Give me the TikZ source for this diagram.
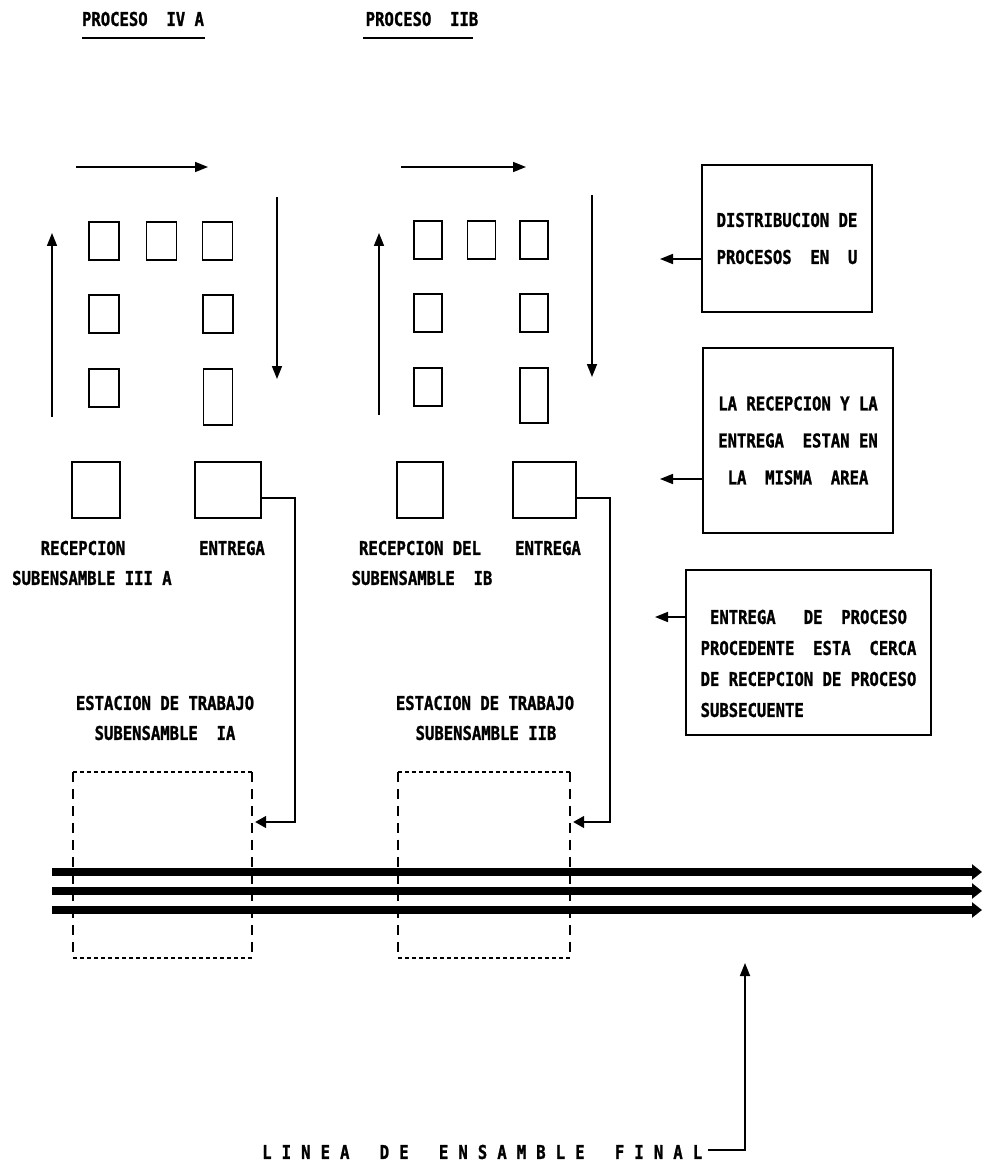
\documentclass[tikz,border=0pt]{standalone}
\usepackage{fontspec}
\newfontfamily\dm[FakeStretch=0.82,FakeBold=1.2]{DejaVu Sans Mono}
\usetikzlibrary{arrows.meta}
\begin{document}
\begin{tikzpicture}[x=1pt,y=-1pt,
  lbl/.style={font=\dm\bfseries\fontsize{19}{37}\selectfont, inner sep=0pt},
  sbox/.style={draw, line width=1.7pt, minimum width=30pt, minimum height=38pt, inner sep=0pt},
  bbox/.style={draw, line width=1.7pt, minimum height=56pt, inner sep=0pt},
  ibox/.style={draw, line width=1.7pt, inner sep=0pt, font=\dm\bfseries\fontsize{19}{37}\selectfont},
  flow/.style={line width=1.7pt, -{Triangle[length=13pt,width=10pt]}},
  conn/.style={line width=1.5pt, -{Triangle[length=11pt,width=12pt]}},
  wsarea/.style={minimum width=179pt, minimum height=186pt, inner sep=0pt},
  dashside/.style={line width=1.7pt, dash pattern=on 10pt off 7pt},
  dashtop/.style={line width=1.7pt, dash pattern=on 4pt off 3pt},
  mainline/.style={line width=8pt, -{Triangle[length=10pt,width=15pt]}},
  uline/.style={line width=2.2pt}]
\fill[white] (0,0) rectangle (982,1174);
\useasboundingbox (0,0) rectangle (982,1174);

% titles
\node[lbl] (t1) at (143,19) {PROCESO~~IV~A};
\node[lbl] (t2) at (422,19) {PROCESO~~IIB};
\coordinate (u1a) at (82,38); \coordinate (u1b) at (205,38);
\coordinate (u2a) at (363,38); \coordinate (u2b) at (473,38);
\draw[uline] (u1a) -- (u1b);
\draw[uline] (u2a) -- (u2b);

% ---------- left group ----------
\coordinate (a1s) at (76,167);  \coordinate (a1e) at (208,167);
\coordinate (a2s) at (277,197); \coordinate (a2e) at (277,379);
\coordinate (a3s) at (52,417);  \coordinate (a3e) at (52,233);
\draw[flow] (a1s) -- (a1e);
\draw[flow] (a2s) -- (a2e);
\draw[flow] (a3s) -- (a3e);
\node[sbox] (l11) at (104,241) {};
\node[sbox] (l12) at (161.5,241) {};
\node[sbox] (l13) at (217.5,241) {};
\node[sbox] (l21) at (104,314) {};
\node[sbox] (l23) at (218,314) {};
\node[sbox] (l31) at (104,388) {};
\node[sbox, minimum width=29pt, minimum height=56pt] (l33) at (218,397) {};
\node[bbox, minimum width=48pt] (rec1) at (96,490) {};
\node[bbox, minimum width=66pt] (ent1) at (228,490) {};
\node[lbl] (rl1) at (83,548) {RECEPCION};
\node[lbl] (el1) at (232,548) {ENTREGA};
\node[lbl, anchor=west] (sl1) at (12,578) {SUBENSAMBLE~III~A};
\node[lbl] (es1) at (165,703) {ESTACION~DE~TRABAJO};
\node[lbl] (ss1) at (165,733) {SUBENSAMBLE~~IA};
\node[wsarea] (ws1) at (162.5,865) {};
\draw[dashside] (ws1.north west) -- (ws1.south west);
\draw[dashside] (ws1.north east) -- (ws1.south east);
\draw[dashtop] (ws1.north west) -- (ws1.north east);
\draw[dashtop] (ws1.south west) -- (ws1.south east);
\coordinate (k1) at (295,822);
\draw[conn] ([yshift=-8pt]ent1.east) -| (k1) -- ([xshift=3pt]ws1.east |- k1);

% ---------- right group ----------
\coordinate (b1s) at (401,167); \coordinate (b1e) at (526,167);
\coordinate (b2s) at (592,195); \coordinate (b2e) at (592,377);
\coordinate (b3s) at (379,415); \coordinate (b3e) at (379,233);
\draw[flow] (b1s) -- (b1e);
\draw[flow] (b2s) -- (b2e);
\draw[flow] (b3s) -- (b3e);
\node[sbox, minimum width=28pt] (r11) at (428,240) {};
\node[sbox, minimum width=28pt] (r12) at (481.5,240) {};
\node[sbox, minimum width=28pt] (r13) at (534,240) {};
\node[sbox, minimum width=28pt] (r21) at (428,313) {};
\node[sbox, minimum width=28pt] (r23) at (534,313) {};
\node[sbox, minimum width=28pt] (r31) at (428,387) {};
\node[sbox, minimum width=28pt, minimum height=55pt] (r33) at (534,395.5) {};
\node[bbox, minimum width=46pt] (rec2) at (420,490) {};
\node[bbox, minimum width=63pt] (ent2) at (544.5,490) {};
\node[lbl] (rl2) at (420,548) {RECEPCION~DEL};
\node[lbl] (el2) at (548,548) {ENTREGA};
\node[lbl] (sl2) at (422,578) {SUBENSAMBLE~~IB};
\node[lbl] (es2) at (485,703) {ESTACION~DE~TRABAJO};
\node[lbl] (ss2) at (486,733) {SUBENSAMBLE~IIB};
\node[wsarea, minimum width=172pt] (ws2) at (484,865) {};
\draw[dashside] (ws2.north west) -- (ws2.south west);
\draw[dashside] (ws2.north east) -- (ws2.south east);
\draw[dashtop] (ws2.north west) -- (ws2.north east);
\draw[dashtop] (ws2.south west) -- (ws2.south east);
\coordinate (k2) at (610,822);
\draw[conn] ([yshift=-8pt]ent2.east) -| (k2) -- ([xshift=3pt]ws2.east |- k2);

% ---------- info boxes ----------
\node[ibox, align=center, minimum width=170pt, minimum height=147pt] (ia) at (787,238.5)
  {DISTRIBUCION~DE\\PROCESOS~~EN~~U};
\node[ibox, align=center, minimum width=190pt, minimum height=185pt] (ib) at (798,440.5)
  {LA~RECEPCION~Y~LA\\ENTREGA~~ESTAN~EN\\LA~~MISMA~~AREA};
\node[ibox, minimum width=245pt, minimum height=165pt] (ic) at (808.5,652.5) {};
\node[lbl, align=left, font=\dm\bfseries\fontsize{19}{31}\selectfont] (ict) at (808.5,663.5)
  {~ENTREGA~~~DE~~PROCESO\\PROCEDENTE~~ESTA~~CERCA\\DE~RECEPCION~DE~PROCESO\\SUBSECUENTE};
\coordinate (pa) at (660,259);
\coordinate (pb) at (660,479);
\coordinate (pc) at (655,617);
\draw[flow] (ia.west |- pa) -- (pa);
\draw[flow] (ib.west |- pb) -- (pb);
\draw[flow] (ic.west |- pc) -- (pc);

% ---------- final assembly line ----------
\coordinate (m1s) at (52,872);  \coordinate (m1e) at (982,872);
\coordinate (m2s) at (52,891);  \coordinate (m2e) at (982,891);
\coordinate (m3s) at (52,910);  \coordinate (m3e) at (982,910);
\draw[mainline] (m1s) -- (m1e);
\draw[mainline] (m2s) -- (m2e);
\draw[mainline] (m3s) -- (m3e);

\node[lbl, anchor=west] (fin) at (262,1152)
  {\makebox[440pt][s]{L\hfill I\hfill N\hfill E\hfill A\hfill\hfill\hfill D\hfill E\hfill\hfill\hfill E\hfill N\hfill S\hfill A\hfill M\hfill B\hfill L\hfill E\hfill\hfill\hfill F\hfill I\hfill N\hfill A\hfill L}};
\coordinate (fa) at (745,963);
\draw[flow] ([xshift=6pt,yshift=2pt]fin.east) -| (fa);
\end{tikzpicture}
\end{document}
